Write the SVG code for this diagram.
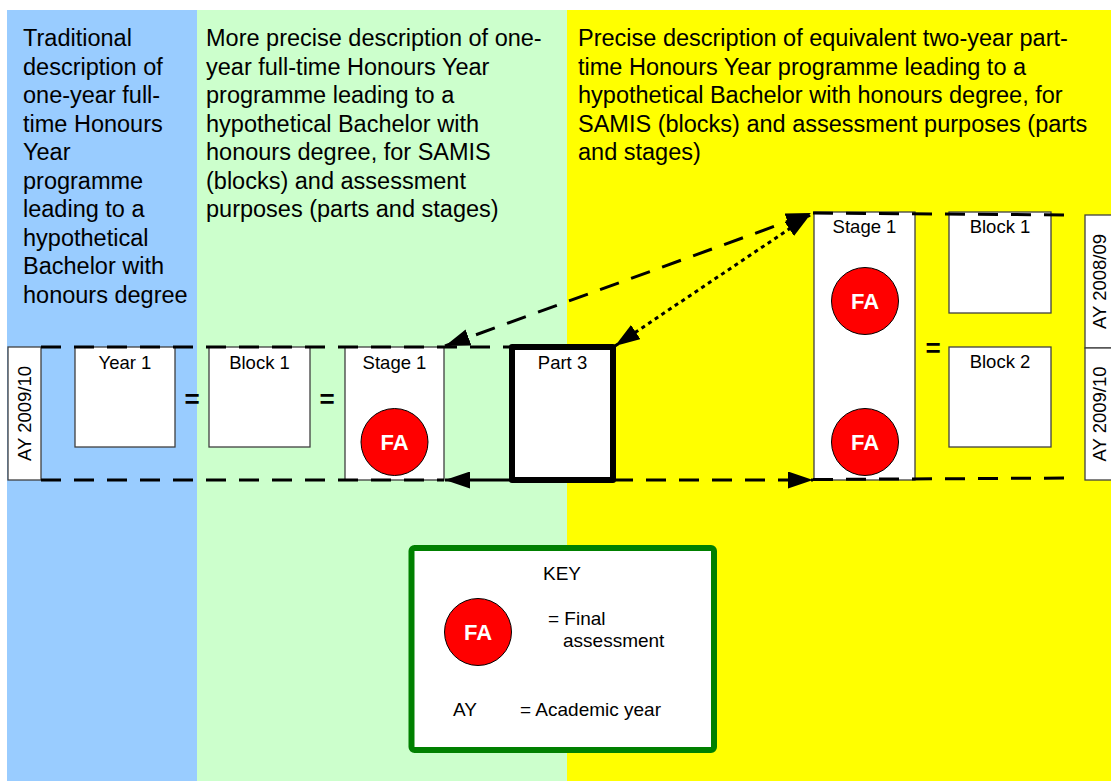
<svg xmlns="http://www.w3.org/2000/svg" width="1111" height="781" viewBox="0 0 1111 781">
<defs>
<style>
text{font-family:"Liberation Sans",Arial,sans-serif;fill:#000}
.col{font-size:23.5px}
.lbl{font-size:18.5px;text-anchor:middle}
.key{font-size:19px}
.fa{font-size:22px;font-weight:bold;fill:#fff;text-anchor:middle}
.eq{font-size:26px;font-weight:bold;text-anchor:middle}
.box{fill:#fff;stroke:#404040;stroke-width:1.3}
.circ{fill:#ff0000;stroke:#000;stroke-width:1}
.dash{fill:none;stroke:#000;stroke-width:3;stroke-dasharray:20 13}
.dot{fill:none;stroke:#000;stroke-width:3;stroke-dasharray:4 4}
.solid{fill:none;stroke:#000;stroke-width:3}
</style>
<marker id="ah" viewBox="0 0 25 17" refX="25" refY="8.5" markerWidth="25" markerHeight="17" markerUnits="userSpaceOnUse" orient="auto-start-reverse">
<path d="M0,0 L25,8.5 L0,17 z" fill="#000"/>
</marker>
</defs>
<rect x="0" y="0" width="1111" height="781" fill="#fff"/>
<rect x="7" y="10" width="190" height="771" fill="#99ccff"/>
<rect x="197" y="10" width="370" height="771" fill="#ccffcc"/>
<rect x="567" y="10" width="544" height="771" fill="#ffff00"/>

<g id="col1-text" class="col">
<text x="23" y="46">Traditional</text>
<text x="23" y="74.5">description of</text>
<text x="23" y="103">one-year full-</text>
<text x="23" y="131.5">time Honours</text>
<text x="23" y="160">Year</text>
<text x="23" y="188.5">programme</text>
<text x="23" y="217">leading to a</text>
<text x="23" y="245.5">hypothetical</text>
<text x="23" y="274">Bachelor with</text>
<text x="23" y="302.5">honours degree</text>
</g>
<g id="col2-text" class="col">
<text x="206" y="46">More precise description of one-</text>
<text x="206" y="74.5">year full-time Honours Year</text>
<text x="206" y="103">programme leading to a</text>
<text x="206" y="131.5">hypothetical Bachelor with</text>
<text x="206" y="160">honours degree, for SAMIS</text>
<text x="206" y="188.5">(blocks) and assessment</text>
<text x="206" y="217">purposes (parts and stages)</text>
</g>
<g id="col3-text" class="col">
<text x="578" y="46">Precise description of equivalent two-year part-</text>
<text x="578" y="74.5">time Honours Year programme leading to a</text>
<text x="578" y="103">hypothetical Bachelor with honours degree, for</text>
<text x="578" y="131.5">SAMIS (blocks) and assessment purposes (parts</text>
<text x="578" y="160">and stages)</text>
</g>

<g id="ay-left">
<rect class="box" x="8" y="347" width="33" height="133"/>
<text class="lbl" transform="translate(31,413.5) rotate(-90)">AY 2009/10</text>
</g>
<g id="year1">
<rect class="box" x="75" y="347" width="100" height="100"/>
<text class="lbl" x="125" y="369">Year 1</text>
</g>
<text id="eq1" class="eq" x="192" y="408">=</text>
<g id="block1-left">
<rect class="box" x="209" y="347" width="101" height="100"/>
<text class="lbl" x="259.5" y="369">Block 1</text>
</g>
<text id="eq2" class="eq" x="327" y="408">=</text>
<g id="stage1-left">
<rect class="box" x="345" y="347" width="99" height="133"/>
<text class="lbl" x="394.5" y="369">Stage 1</text>
<circle class="circ" cx="394.5" cy="442" r="33.5"/>
<text class="fa" x="394.5" y="450">FA</text>
</g>
<g id="part3">
<rect x="512" y="347" width="101" height="133" fill="#fff" stroke="#000" stroke-width="6" stroke-linejoin="round"/>
<text class="lbl" x="562.5" y="369">Part 3</text>
</g>
<g id="stage1-right">
<rect class="box" x="814" y="212" width="101" height="268"/>
<text class="lbl" x="864.5" y="233">Stage 1</text>
<circle class="circ" cx="865" cy="301" r="33.5"/>
<text class="fa" x="865" y="309">FA</text>
<circle class="circ" cx="865" cy="442" r="33.5"/>
<text class="fa" x="865" y="450">FA</text>
</g>
<text id="eq3" class="eq" x="933" y="357">=</text>
<g id="block1-right">
<rect class="box" x="949" y="212" width="102" height="101"/>
<text class="lbl" x="1000" y="233">Block 1</text>
</g>
<g id="block2-right">
<rect class="box" x="949" y="347" width="102" height="100"/>
<text class="lbl" x="1000" y="368">Block 2</text>
</g>
<g id="ay-right-0809">
<rect class="box" x="1085" y="215" width="40" height="133"/>
<text class="lbl" transform="translate(1106,281.5) rotate(-90)">AY 2008/09</text>
</g>
<g id="ay-right-0910">
<rect class="box" x="1085" y="348" width="40" height="132"/>
<text class="lbl" transform="translate(1106,414) rotate(-90)">AY 2009/10</text>
</g>

<g id="key">
<rect x="411.5" y="548" width="302.5" height="202" rx="3" fill="#fff" stroke="#008000" stroke-width="6"/>
<text class="lbl" x="562" y="580" style="font-size:19px">KEY</text>
<circle class="circ" cx="478" cy="632" r="33.5"/>
<text class="fa" x="478" y="640">FA</text>
<text class="key" x="548" y="625">= Final</text>
<text class="key" x="563" y="647">assessment</text>
<text class="key" x="453" y="716">AY</text>
<text class="key" x="520" y="716">= Academic year</text>
</g>

<g id="connectors">
<line class="dash" x1="41" y1="347" x2="512" y2="347"/>
<line class="dash" x1="41" y1="480" x2="444" y2="480"/>
<line class="solid" x1="512" y1="480" x2="445" y2="480" marker-end="url(#ah)"/>
<line class="dash" x1="613" y1="480" x2="813" y2="480" marker-end="url(#ah)"/>
<line class="dash" x1="813" y1="213" x2="1075" y2="215"/>
<line class="dash" x1="813" y1="479.5" x2="1075" y2="478"/>
<line class="dash" x1="445" y1="346" x2="811" y2="213" stroke-dasharray="24 13" marker-start="url(#ah)" marker-end="url(#ah)"/>
<line class="dot" x1="615" y1="346" x2="810" y2="215" marker-start="url(#ah)" marker-end="url(#ah)"/>
</g>
</svg>
